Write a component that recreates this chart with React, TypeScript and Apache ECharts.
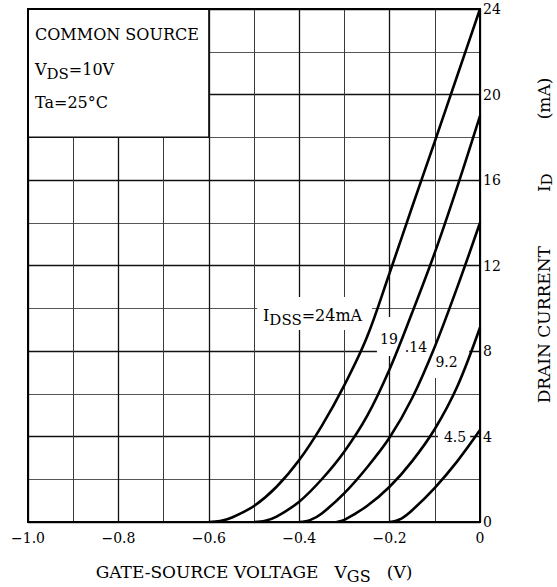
import React, { useEffect, useRef } from 'react';
import * as echarts from 'echarts';

// ---- axis ticks ----
const xTickValues = [-1.0, -0.8, -0.6, -0.4, -0.2, 0];
const xTickLabels = ['−1.0', '−0.8', '−0.6', '−0.4', '−0.2', '0'];
const yTickValues = [0, 4, 8, 12, 16, 20, 24];
const yTickLabels = ['0', '4', '8', '12', '16', '20', '24'];

// ---- curve labels (I_DSS values) ----
const idssLabels = ['24', '19', '14', '9.2', '4.5'];

// ---- curves: V_GS (V) and I_D (mA) ----
const vgs24 = [-0.6, -0.575, -0.55, -0.5, -0.45, -0.4, -0.35, -0.3, -0.25, -0.2, -0.15, -0.1, -0.05, 0];
const id24 = [0, 0.05, 0.2, 0.75, 1.65, 2.9, 4.5, 6.4, 8.65, 11.65, 14.75, 17.8, 20.9, 24.0];

const vgs19 = [-0.5, -0.475, -0.45, -0.4, -0.35, -0.3, -0.25, -0.2, -0.15, -0.1, -0.05, 0];
const id19 = [0, 0.06, 0.25, 0.95, 2.0, 3.3, 4.95, 7.15, 9.8, 12.6, 15.7, 19.0];

const vgs14 = [-0.4, -0.375, -0.35, -0.3, -0.25, -0.2, -0.15, -0.1, -0.05, 0];
const id14 = [0, 0.1, 0.4, 1.35, 2.55, 3.95, 5.8, 8.2, 11.0, 14.0];

const vgs92 = [-0.317, -0.3, -0.25, -0.2, -0.15, -0.1, -0.05, 0];
const id92 = [0, 0.1, 0.75, 1.65, 2.85, 4.35, 6.35, 9.1];

const vgs45 = [-0.2, -0.175, -0.15, -0.1, -0.05, 0];
const id45 = [0, 0.15, 0.55, 1.6, 2.85, 4.3];

const curves = [
  { v: vgs24, i: id24 },
  { v: vgs19, i: id19 },
  { v: vgs14, i: id14 },
  { v: vgs92, i: id92 },
  { v: vgs45, i: id45 },
];

// ---- white erasing boxes behind annotations (data coords) ----
const legendBox = [[-1, 18], [-0.6, 24]];
const labelBoxes = [
  [[-0.493, 8.98], [-0.239, 10.53]],
  [[-0.228, 7.77], [-0.175, 9.59]],
  [[-0.175, 7.67], [-0.106, 8.75]],
  [[-0.106, 6.74], [-0.024, 8.37]],
  [[-0.093, 3.6], [-0.022, 4.3]],
];

const SERIF = 'DejaVu Serif';

function zip(xs: number[], ys: number[]) {
  return xs.map((x, k) => [x, ys[k]]);
}
function tickLabel(v: number, vals: number[], labels: string[]) {
  const k = vals.findIndex((t) => Math.abs(t - v) < 1e-6);
  return k >= 0 ? labels[k] : '';
}

export default function App() {
  const ref = useRef<HTMLDivElement>(null);
  useEffect(() => {
    const el = ref.current!;
    const chart = echarts.init(el, undefined, { renderer: 'svg' });
    const option: any = {
      animation: false,
      backgroundColor: '#fff',
      grid: { left: 28, right: 77, top: 9, bottom: 65, containLabel: false },
      xAxis: {
        type: 'value',
        min: -1,
        max: 0,
        interval: 0.2,
        axisLine: { show: false },
        axisTick: { show: false },
        axisLabel: {
          margin: 9,
          color: '#000',
          fontFamily: SERIF,
          fontSize: 14,
          showMinLabel: true,
          showMaxLabel: true,
          formatter: (v: number) => tickLabel(v, xTickValues, xTickLabels),
        },
        splitLine: { show: true, lineStyle: { color: '#111', width: 1.3 } },
        minorTick: { show: false, splitNumber: 2 },
        minorSplitLine: { show: true, lineStyle: { color: '#3a3a3a', width: 1 } },
      },
      yAxis: {
        type: 'value',
        min: 0,
        max: 24,
        interval: 4,
        position: 'right',
        axisLine: { show: false },
        axisTick: { show: false },
        axisLabel: {
          margin: 3,
          color: '#000',
          fontFamily: SERIF,
          fontSize: 14,
          showMinLabel: true,
          showMaxLabel: true,
          formatter: (v: number) => tickLabel(v, yTickValues, yTickLabels),
        },
        splitLine: { show: true, lineStyle: { color: '#111', width: 1.3 } },
        minorTick: { show: false, splitNumber: 2 },
        minorSplitLine: { show: true, lineStyle: { color: '#555', width: 1 } },
      },
      series: [
        ...curves.map((c, k) => ({
          type: 'line',
          name: idssLabels[k],
          data: zip(c.v, c.i),
          symbol: 'none',
          showSymbol: false,
          smooth: 0.35,
          silent: true,
          z: 3,
          lineStyle: { color: '#000', width: 2.6 },
        })),
        {
          type: 'line',
          name: 'boxes',
          data: [],
          silent: true,
          z: 1,
          markArea: {
            silent: true,
            data: [
              [
                { xAxis: legendBox[0][0], yAxis: legendBox[0][1], itemStyle: { color: '#fff', borderColor: '#111', borderWidth: 1.3 } },
                { xAxis: legendBox[1][0], yAxis: legendBox[1][1] },
              ],
              ...labelBoxes.map((b) => [
                { xAxis: b[0][0], yAxis: b[0][1], itemStyle: { color: '#fff', borderWidth: 0 } },
                { xAxis: b[1][0], yAxis: b[1][1] },
              ]),
            ],
          },
        },
      ],
    };
    chart.setOption(option);

    const px = (v: number, i: number) => chart.convertToPixel({ gridIndex: 0 } as any, [v, i]) as number[];
    const tl = px(-1, 24);
    const br = px(0, 0);
    const main = { fontFamily: SERIF, fontSize: 16, fill: '#000', lineHeight: 20 };
    const sub = { fontFamily: SERIF, fontSize: 15, fill: '#000', lineHeight: 20, padding: [9, 0, 0, 0] };
    const main17 = { fontFamily: SERIF, fontSize: 17, fill: '#000', lineHeight: 20 };
    const sub17 = { fontFamily: SERIF, fontSize: 16, fill: '#000', lineHeight: 20, padding: [9, 0, 0, 0] };
    const subY = { fontFamily: SERIF, fontSize: 15, fill: '#000', lineHeight: 20, padding: [6, 0, 0, 0] };
    const txt = (p: number[], text: string, extra: any = {}) => ({
      type: 'text',
      x: p[0],
      y: p[1],
      z: 100,
      silent: true,
      ...extra,
      style: {
        text,
        fontFamily: SERIF,
        fontSize: 16,
        fill: '#000',
        align: 'left',
        textAlign: 'left',
        verticalAlign: 'middle',
        textVerticalAlign: 'middle',
        rich: { m: main, s: sub, M: main17, S: sub17, Y: subY },
        ...(extra.style || {}),
      },
    });
    const small = { fontSize: 14 };
    const sp = (n: number) => '\u00a0'.repeat(n);
    const graphic = [
      {
        type: 'rect',
        z: 100,
        silent: true,
        shape: { x: tl[0], y: tl[1], width: br[0] - tl[0], height: br[1] - tl[1] },
        style: { fill: 'none', stroke: '#000', lineWidth: 2 },
      },
      txt(px(-0.9845, 22.81), 'COMMON SOURCE'),
      txt(px(-0.9845, 21.15), '{m|V}{s|DS}{m|=10V}'),
      txt(px(-0.9845, 19.63), 'Ta=25°C'),
      txt(px(-0.48, 9.68), `{m|I}{s|DSS}{m|=${idssLabels[0]}mA}`),
      txt(px(-0.2013, 8.56), idssLabels[1], { style: { ...small, align: 'center', textAlign: 'center' } }),
      txt(px(-0.1416, 8.19), '.' + idssLabels[2], { style: { ...small, align: 'center', textAlign: 'center' } }),
      txt(px(-0.0741, 7.49), idssLabels[3], { style: { ...small, align: 'center', textAlign: 'center' } }),
      txt(px(-0.0553, 3.98), idssLabels[4], { style: { ...small, align: 'center', textAlign: 'center' } }),
      txt([px(-0.5, 0)[0], br[1] + 50], `{M|GATE-SOURCE VOLTAGE${sp(3)}V}{S|GS}{M|${sp(3)}(V)}`, {
        style: { align: 'center', textAlign: 'center' },
      }),
      txt([br[0] + 64, px(0, 12)[1] - 25], `{M|DRAIN CURRENT${sp(10)}I}{Y|D}{M|${sp(10)}(mA)}`, {
        rotation: Math.PI / 2,
        style: { align: 'center', textAlign: 'center' },
      }),
    ];
    chart.setOption({ graphic });

    return () => {
      chart.dispose();
    };
  }, []);
  return <div ref={ref} style={{ position: 'absolute', left: 0, top: 0, width: 557, height: 587 }} />;
}
